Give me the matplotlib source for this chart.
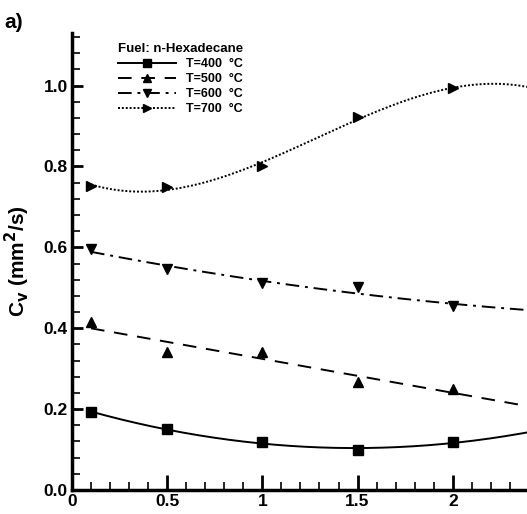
import numpy as np
import matplotlib.pyplot as plt
from matplotlib.ticker import MultipleLocator, FormatStrFormatter

plt.rcParams['font.family'] = ['Liberation Sans', 'DejaVu Sans']
plt.rcParams['font.weight'] = 'bold'

# data
x_pts = [0.1, 0.5, 1.0, 1.5, 2.0]
cv_400 = [0.193, 0.150, 0.118, 0.099, 0.118]
cv_500 = [0.415, 0.341, 0.341, 0.267, 0.249]
cv_600 = [0.595, 0.546, 0.511, 0.501, 0.454]
cv_700 = [0.753, 0.750, 0.800, 0.923, 0.993]
labels = ['T=400  °C', 'T=500  °C', 'T=600  °C', 'T=700  °C']
x_max = 2.39

series = [
    (cv_400, 's', '-', 2),
    (cv_500, '^', (0, (7, 5)), 1),
    (cv_600, 'v', (0, (7, 3, 1.5, 3)), 2),
    (cv_700, '>', (0, (1, 1)), 3),
]

fig = plt.figure(figsize=(5.27, 5.14), dpi=100)
ax = fig.add_axes([0.1366, 0.0467, 0.8634, 0.889])

xs = np.linspace(0.1, x_max, 200)
for (vals, mk, ls, deg), lab in zip(series, labels):
    coef = np.polyfit(x_pts, vals, deg)
    ax.plot(xs, np.polyval(coef, xs), color='black', linestyle=ls, lw=1.4)
    ax.plot(x_pts, vals, linestyle='none', marker=mk, color='black', ms=7)
    ax.plot([], [], color='black', linestyle=ls, lw=1.4, marker=mk, ms=6, label=lab)

ax.set_xlim(0, x_max)
ax.set_ylim(0, 1.13)
ax.spines['top'].set_visible(False)
ax.spines['right'].set_visible(False)
ax.spines['left'].set_linewidth(2.5)
ax.spines['bottom'].set_linewidth(2.5)

ax.xaxis.set_major_locator(MultipleLocator(0.5))
ax.xaxis.set_minor_locator(MultipleLocator(0.1))
ax.yaxis.set_major_locator(MultipleLocator(0.2))
ax.yaxis.set_minor_locator(MultipleLocator(0.04))
ax.yaxis.set_major_formatter(FormatStrFormatter('%.1f'))
ax.set_xticks([0, 0.5, 1, 1.5, 2])
ax.set_xticklabels(['0', '0.5', '1', '1.5', '2'])
ax.tick_params(which='major', direction='in', length=11, width=2, labelsize=12.5, pad=3)
ax.tick_params(which='minor', direction='in', length=6, width=1.2)
ax.tick_params(axis='y', which='major', length=8)
for t in ax.get_xticklabels() + ax.get_yticklabels():
    t.set_fontweight('bold')

ax.set_ylabel('C$_\\mathbf{v}$ (mm$^\\mathbf{2}$/s)', fontsize=15, fontweight='bold', labelpad=8)

leg = ax.legend(loc='upper left', bbox_to_anchor=(0.085, 0.995), frameon=False,
                title='Fuel: n-Hexadecane', fontsize=9, handlelength=4.6,
                labelspacing=0.25, borderaxespad=0.2, handletextpad=0.8)
leg.get_title().set_fontweight('bold')
leg.get_title().set_fontsize(9.5)
leg._legend_box.align = 'left'

fig.text(0.008, 0.975, 'a)', fontsize=15, fontweight='bold', va='top')

fig.savefig('out.png', dpi=100)
